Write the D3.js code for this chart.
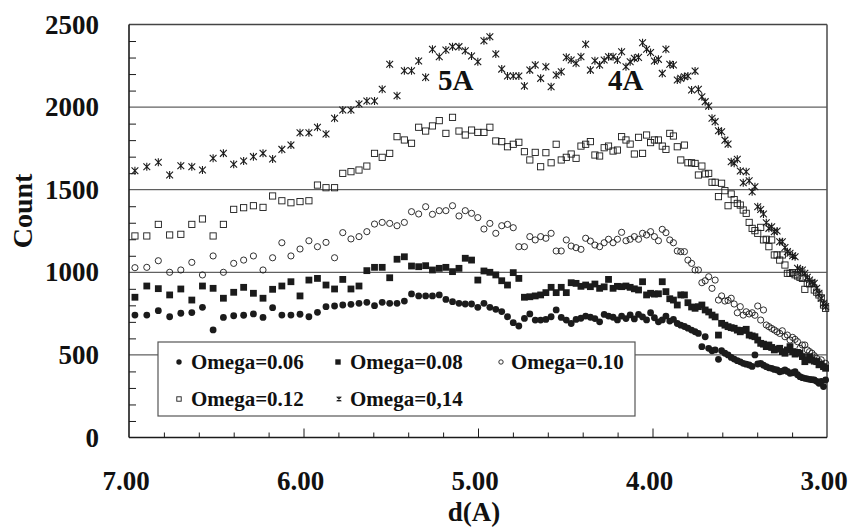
<!DOCTYPE html>
<html>
<head>
<meta charset="utf-8">
<script src="https://cdn.jsdelivr.net/npm/d3@7"></script>
<style>
  body { margin: 0; background: white; }
  text { font-family: "Liberation Serif", "Times New Roman", serif; font-weight: bold; fill: #111; }
</style>
</head>
<body>
<div id="canvas"></div>
<script>
"use strict"

// DATA
let dValues = [
  6.966, 6.898, 6.832, 6.767, 6.703, 6.640, 6.579, 6.518, 6.459, 6.400,
  6.343, 6.287, 6.232, 6.177, 6.124, 6.072, 6.020, 5.969, 5.920, 5.871,
  5.822, 5.775, 5.728, 5.682, 5.637, 5.593, 5.549, 5.506, 5.464, 5.422,
  5.381, 5.340, 5.300, 5.261, 5.222, 5.184, 5.146, 5.109, 5.073, 5.037,
  5.001, 4.966, 4.932, 4.898, 4.864, 4.831, 4.798, 4.766, 4.734, 4.703,
  4.672, 4.641, 4.611, 4.581, 4.552, 4.523, 4.494, 4.466, 4.438, 4.410,
  4.383, 4.356, 4.330, 4.303, 4.277, 4.252, 4.226, 4.201, 4.177, 4.152,
  4.128, 4.104, 4.080, 4.057, 4.034, 4.011, 3.989, 3.966, 3.944, 3.923,
  3.901, 3.880, 3.858, 3.838, 3.817, 3.797, 3.776, 3.756, 3.737, 3.717,
  3.698, 3.678, 3.659, 3.641, 3.622, 3.604, 3.585, 3.567, 3.549, 3.532,
  3.514, 3.497, 3.480, 3.463, 3.446, 3.429, 3.413, 3.397, 3.380, 3.364,
  3.348, 3.333, 3.317, 3.302, 3.286, 3.271, 3.256, 3.241, 3.227, 3.212,
  3.197, 3.183, 3.169, 3.155, 3.141, 3.127, 3.113, 3.100, 3.086, 3.073,
  3.059, 3.046, 3.033, 3.020, 3.008
]

let omega006 = [
  741, 741, 768, 731, 752, 756, 788, 651, 727, 737,
  740, 748, 727, 786, 741, 741, 746, 731, 758, 792,
  796, 802, 806, 812, 818, 798, 818, 812, 812, 826,
  869, 857, 857, 857, 863, 836, 822, 812, 808, 808,
  788, 812, 788, 776, 762, 731, 695, 675, 721, 748,
  711, 711, 715, 731, 772, 727, 711, 690, 715, 722,
  735, 728, 720, 700, 745, 735, 728, 712, 735, 720,
  742, 718, 745, 730, 712, 755, 725, 700, 712, 735,
  705, 715, 690, 680, 672, 662, 650, 640, 630, 550,
  610, 540, 525, 530, 473, 525, 510, 500, 485, 475,
  465, 458, 449, 444, 439, 430, 500, 445, 449, 438,
  429, 422, 419, 412, 409, 398, 402, 409, 400, 389,
  392, 398, 380, 368, 362, 358, 355, 352, 350, 348,
  340, 328, 340, 308, 348
]

let omega008 = [
  849, 917, 901, 863, 899, 832, 917, 903, 843, 879,
  909, 873, 843, 897, 917, 943, 857, 953, 963, 923,
  899, 957, 899, 917, 1010, 1030, 1030, 967, 1079, 1094,
  1038, 1034, 1040, 1014, 1024, 1030, 1004, 1024, 1085, 1074,
  953, 1008, 1000, 984, 949, 923, 998, 963, 849, 852,
  857, 863, 877, 909, 877, 909, 877, 937, 933, 915,
  923, 913, 929, 903, 912, 957, 903, 915, 913, 917,
  909, 900, 893, 943, 863, 873, 868, 870, 943, 883,
  840, 832, 802, 863, 863, 816, 790, 782, 792, 802,
  772, 760, 741, 730, 620, 691, 680, 671, 665, 661,
  650, 640, 648, 655, 620, 615, 610, 590, 570, 565,
  550, 560, 545, 530, 535, 540, 520, 510, 530, 550,
  520, 505, 515, 510, 490, 459, 470, 489, 470, 462,
  459, 440, 445, 429, 419
]

let omega010 = [
  1028, 1030, 1070, 1000, 1014, 1060, 984, 1099, 1000, 1054,
  1074, 1099, 1014, 1088, 1179, 1099, 1141, 1191, 1155, 1181,
  1088, 1240, 1202, 1216, 1246, 1292, 1302, 1296, 1282, 1302,
  1367, 1353, 1397, 1351, 1373, 1373, 1403, 1341, 1373, 1357,
  1331, 1262, 1296, 1236, 1282, 1290, 1270, 1155, 1155, 1216,
  1196, 1216, 1206, 1236, 1129, 1129, 1196, 1159, 1149, 1139,
  1206, 1189, 1165, 1155, 1179, 1200, 1179, 1200, 1242, 1191,
  1200, 1216, 1200, 1236, 1226, 1246, 1216, 1191, 1260, 1240,
  1196, 1179, 1129, 1125, 1125, 1074, 1054, 1014, 1014, 937,
  949, 973, 903, 953, 832, 857, 826, 830, 843, 808,
  755, 792, 741, 761, 748, 755, 740, 796, 711, 772,
  681, 671, 660, 651, 640, 630, 646, 610, 620, 590,
  606, 594, 580, 540, 560, 560, 530, 520, 510, 495,
  479, 459, 470, 429, 449
]

let omega012 = [
  1220, 1220, 1290, 1226, 1230, 1290, 1323, 1220, 1290, 1381,
  1391, 1403, 1393, 1462, 1433, 1421, 1428, 1433, 1528, 1512,
  1512, 1599, 1609, 1619, 1643, 1720, 1696, 1720, 1821, 1801,
  1781, 1878, 1855, 1886, 1918, 1841, 1938, 1855, 1831, 1861,
  1847, 1847, 1878, 1795, 1791, 1760, 1775, 1787, 1730, 1680,
  1726, 1639, 1724, 1663, 1775, 1680, 1696, 1716, 1690, 1764,
  1775, 1791, 1710, 1704, 1754, 1764, 1734, 1740, 1821, 1801,
  1776, 1716, 1817, 1720, 1831, 1785, 1801, 1801, 1764, 1744,
  1841, 1825, 1760, 1680, 1770, 1663, 1663, 1659, 1589, 1643,
  1595, 1599, 1545, 1545, 1458, 1539, 1494, 1403, 1474, 1440,
  1417, 1407, 1377, 1357, 1302, 1266, 1252, 1236, 1272, 1196,
  1200, 1155, 1196, 1105, 1105, 1074, 1105, 1044, 994, 994,
  998, 985, 978, 970, 963, 897, 933, 930, 933, 893,
  880, 863, 845, 802, 782
]

let omega014 = [
  1615, 1639, 1666, 1589, 1645, 1639, 1619, 1690, 1720, 1654,
  1674, 1700, 1720, 1686, 1744, 1770, 1845, 1845, 1878, 1837,
  1932, 1982, 1982, 2019, 2037, 2037, 2108, 2259, 2069, 2220,
  2220, 2279, 2180, 2350, 2305, 2346, 2366, 2366, 2341, 2309,
  2275, 2402, 2426, 2321, 2230, 2188, 2188, 2188, 2128, 2224,
  2255, 2174, 2244, 2123, 2194, 2214, 2301, 2285, 2265, 2305,
  2380, 2224, 2281, 2255, 2285, 2305, 2305, 2285, 2335, 2244,
  2275, 2295, 2301, 2390, 2350, 2330, 2279, 2289, 2204, 2350,
  2259, 2255, 2164, 2174, 2184, 2188, 2103, 2218, 2108, 2063,
  2033, 2006, 1932, 1912, 1857, 1851, 1800, 1776, 1669, 1660,
  1684, 1613, 1542, 1609, 1554, 1488, 1518, 1397, 1380, 1353,
  1300, 1266, 1276, 1246, 1250, 1185, 1185, 1150, 1125, 1115,
  1100, 1094, 1024, 1014, 1014, 994, 970, 953, 940, 933,
  903, 873, 843, 812, 792
]

let seriesLabels = ["Omega=0.06", "Omega=0.08", "Omega=0.10", "Omega=0.12", "Omega=0,14"]
let yTickValues = [0, 500, 1000, 1500, 2000, 2500]
let xTickValues = [7, 6, 5, 4, 3]
let xTickLabels = ["7.00", "6.00", "5.00", "4.00", "3.00"]
let peakLabels = ["5A", "4A"]

/* Configuration variables: drawing */
let svgWidth = 851;
let svgHeight = 529;

let plotLeft = 129;
let plotRight = 827;
let plotTop = 24.5;
let plotBottom = 437.5;

let ink = "#1b1b1b";

let svg = d3.select("#canvas")
  .append("svg")
  .attr("width", svgWidth)
  .attr("height", svgHeight);

svg.append("rect")
  .attr("width", svgWidth)
  .attr("height", svgHeight)
  .attr("fill", "white");

// scales
let xScale = d3.scaleLinear()
  .domain([7, 3])
  .range([plotLeft, plotRight]);

let yScale = d3.scaleLinear()
  .domain([0, 2500])
  .range([plotBottom, plotTop]);

// gridlines
for (let i = 1; i < yTickValues.length - 1; i++) {
  svg.append("line")
    .attr("x1", plotLeft)
    .attr("x2", plotRight)
    .attr("y1", yScale(yTickValues[i]))
    .attr("y2", yScale(yTickValues[i]))
    .attr("stroke", "#3a3a3a")
    .attr("stroke-width", 1)
}

// frame top and right
svg.append("line")
  .attr("x1", plotLeft).attr("x2", plotRight)
  .attr("y1", plotTop).attr("y2", plotTop)
  .attr("stroke", "#444").attr("stroke-width", 1.6)

svg.append("line")
  .attr("x1", plotRight).attr("x2", plotRight)
  .attr("y1", plotTop).attr("y2", plotBottom)
  .attr("stroke", "#555").attr("stroke-width", 1.6)

// minor ticks (inside)
let yMinor = d3.range(100, 2500, 100).filter(function (v) { return v % 500 != 0 })
let yAxis = svg.append("g")
  .attr("transform", "translate(" + plotLeft + ",0)")
  .call(d3.axisLeft(yScale).tickValues(yMinor).tickSize(-7).tickFormat(""))
yAxis.select(".domain").remove()
yAxis.selectAll("line").attr("stroke", ink).attr("stroke-width", 1)

let xMinor = d3.range(3.2, 7, 0.2).filter(function (v) { return Math.abs(v - Math.round(v)) > 0.01 })
let xAxisMinor = svg.append("g")
  .attr("transform", "translate(0," + plotBottom + ")")
  .call(d3.axisBottom(xScale).tickValues(xMinor).tickSize(-5).tickFormat(""))
xAxisMinor.select(".domain").remove()
xAxisMinor.selectAll("line").attr("stroke", ink).attr("stroke-width", 1)

let xAxisMajor = svg.append("g")
  .attr("transform", "translate(0," + plotBottom + ")")
  .call(d3.axisBottom(xScale).tickValues([6, 5, 4]).tickSize(-9).tickFormat(""))
xAxisMajor.select(".domain").remove()
xAxisMajor.selectAll("line").attr("stroke", ink).attr("stroke-width", 1)

// legend box (drawn under the points, covers the 500 gridline)
svg.append("rect")
  .attr("x", 158)
  .attr("y", 342)
  .attr("width", 477)
  .attr("height", 74)
  .attr("fill", "white")
  .attr("stroke", "#555")
  .attr("stroke-width", 1.2)

// markers
function drawMarker(g, shape, x, y, size) {
  let h = size / 2
  if (shape == "dot") {
    g.append("circle").attr("cx", x).attr("cy", y).attr("r", h).attr("fill", ink)
  } else if (shape == "box") {
    g.append("rect").attr("x", x - h).attr("y", y - h).attr("width", size).attr("height", size).attr("fill", ink)
  } else if (shape == "ring") {
    g.append("circle").attr("cx", x).attr("cy", y).attr("r", h - 0.5)
      .attr("fill", "none").attr("stroke", ink).attr("stroke-width", 0.9)
  } else if (shape == "openbox") {
    g.append("rect").attr("x", x - h + 0.5).attr("y", y - h + 0.5).attr("width", size - 1).attr("height", size - 1)
      .attr("fill", "none").attr("stroke", ink).attr("stroke-width", 0.9)
  } else if (shape == "star") {
    let a = h * 0.85
    g.append("path")
      .attr("d", "M" + (x - a) + "," + (y - a) + "L" + (x + a) + "," + (y + a) +
        "M" + (x - a) + "," + (y + a) + "L" + (x + a) + "," + (y - a) +
        "M" + x + "," + (y - h) + "L" + x + "," + (y + h))
      .attr("stroke", ink).attr("stroke-width", 1.1).attr("fill", "none")
  }
}

let series = [
  { label: seriesLabels[0], values: omega006, shape: "dot", size: 6.8 },
  { label: seriesLabels[1], values: omega008, shape: "box", size: 6.8 },
  { label: seriesLabels[2], values: omega010, shape: "ring", size: 7.2 },
  { label: seriesLabels[3], values: omega012, shape: "openbox", size: 7.2 },
  { label: seriesLabels[4], values: omega014, shape: "star", size: 8 }
]

for (let s = 0; s < series.length; s++) {
  let g = svg.append("g")
  for (let i = 0; i < dValues.length; i++) {
    drawMarker(g, series[s].shape, xScale(dValues[i]), yScale(series[s].values[i]), series[s].size)
  }
}

// left and bottom axis lines
svg.append("line")
  .attr("x1", plotLeft).attr("x2", plotLeft)
  .attr("y1", plotTop).attr("y2", plotBottom)
  .attr("stroke", ink).attr("stroke-width", 1.6)

svg.append("line")
  .attr("x1", plotLeft).attr("x2", plotRight)
  .attr("y1", plotBottom).attr("y2", plotBottom)
  .attr("stroke", ink).attr("stroke-width", 1.6)

// Y AXIS VALUES
for (let i = 0; i < yTickValues.length; i++) {
  svg.append("text")
    .attr("x", 99)
    .attr("y", yScale(yTickValues[i]) + 9)
    .style("text-anchor", "end")
    .style("font-size", "27px")
    .text(yTickValues[i])
}

// X AXIS VALUES
for (let i = 0; i < xTickValues.length; i++) {
  svg.append("text")
    .attr("x", xScale(xTickValues[i]) - 3)
    .attr("y", 490)
    .style("text-anchor", "middle")
    .style("font-size", "27px")
    .text(xTickLabels[i])
}

// axis labels
svg.append("text")
  .attr("x", 474)
  .attr("y", 521)
  .style("text-anchor", "middle")
  .style("font-size", "27px")
  .text("d(A)")

svg.append("text")
  .attr("transform", "rotate(-90)")
  .attr("x", -211)
  .attr("y", 32)
  .style("text-anchor", "middle")
  .style("font-size", "28px")
  .text("Count")

// peak labels
svg.append("text").attr("x", 438).attr("y", 90).style("font-size", "29px").text(peakLabels[0])
svg.append("text").attr("x", 608).attr("y", 90).style("font-size", "29px").text(peakLabels[1])

// legend entries
let legendPos = [
  { mx: 179, tx: 191, my: 362, ty: 369 },
  { mx: 338, tx: 350, my: 362, ty: 369 },
  { mx: 501, tx: 511, my: 362, ty: 369 },
  { mx: 179, tx: 191, my: 399, ty: 406 },
  { mx: 339, tx: 350, my: 399, ty: 406 }
]

for (let s = 0; s < series.length; s++) {
  let lg = svg.append("g")
  drawMarker(lg, series[s].shape, legendPos[s].mx, legendPos[s].my, 5.4)
  svg.append("text")
    .attr("x", legendPos[s].tx)
    .attr("y", legendPos[s].ty)
    .style("font-size", "21px")
    .text(series[s].label)
}
</script>
</body>
</html>
